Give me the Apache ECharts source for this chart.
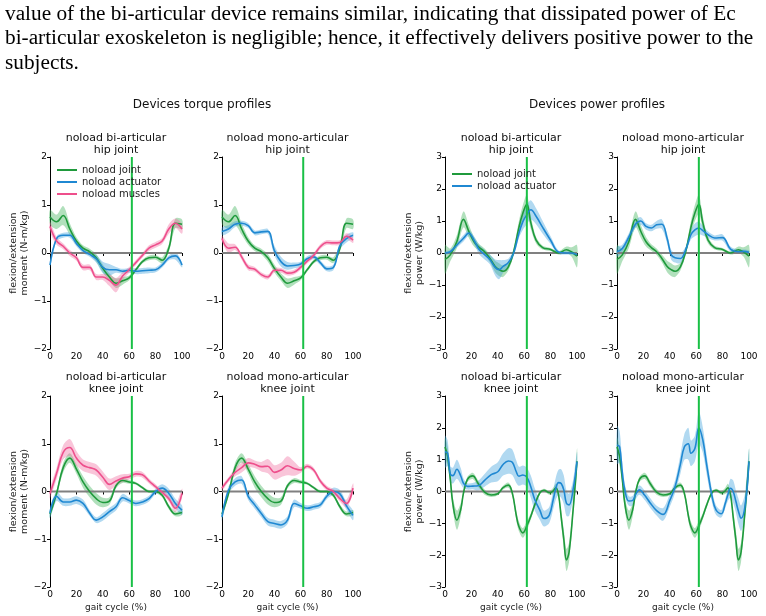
<!DOCTYPE html>
<html>
<head>
<meta charset="utf-8">
<script src="https://cdn.jsdelivr.net/npm/echarts@6/dist/echarts.min.js"></script>
<style>
html, body { margin: 0; padding: 0; background: #fff; }
#chart { width: 766px; height: 616px; }
</style>
</head>
<body>
<div id="chart"></div>
<script>
// gait cycle samples (%)
const hipTorqueX = [0, 5, 10, 15, 20, 25, 30, 35, 40, 45, 50, 55, 60, 65, 70, 75, 80, 85, 90, 95, 100];
const kneeTorqueX = [0, 5, 10, 15, 20, 25, 30, 35, 40, 45, 50, 55, 60, 65, 70, 75, 80, 85, 90, 95, 100];
const hipPowerX = [0, 4, 9, 14, 18, 22, 26, 30, 34, 38, 41, 44, 48, 52, 56, 59, 62, 65, 69, 74, 80, 86, 92, 96, 100];
const kneePowerX = [0, 2, 4, 6, 9, 12, 14, 17, 21, 25, 30, 35, 40, 44, 48, 51, 54, 56, 59, 62, 65, 68, 72, 75, 79, 82, 84, 86, 88, 90, 92, 94, 97, 100];

// hip moment (N-m/kg)
const jointHipTorque = [0.75, 0.65, 0.78, 0.5, 0.25, 0.1, 0.03, -0.1, -0.32, -0.5, -0.63, -0.58, -0.52, -0.35, -0.18, -0.1, -0.09, -0.15, 0.1, 0.62, 0.6];
const jointHipTorqueSd = [0.15, 0.15, 0.2, 0.12, 0.08, 0.06, 0.06, 0.08, 0.08, 0.08, 0.1, 0.08, 0.05, 0.04, 0.04, 0.05, 0.05, 0.06, 0.08, 0.1, 0.1];
const biHipActTorque = [-0.25, 0.3, 0.37, 0.37, 0.2, 0.05, -0.03, -0.12, -0.3, -0.35, -0.35, -0.38, -0.36, -0.38, -0.37, -0.36, -0.35, -0.25, -0.1, -0.06, -0.25];
const biHipActTorqueSd = [0.05, 0.05, 0.05, 0.05, 0.06, 0.05, 0.05, 0.08, 0.12, 0.12, 0.06, 0.05, 0.05, 0.06, 0.06, 0.06, 0.05, 0.05, 0.05, 0.08, 0.05];
const biHipMusTorque = [0.55, 0.25, 0.14, 0.0, -0.1, -0.3, -0.3, -0.5, -0.5, -0.57, -0.67, -0.48, -0.35, -0.2, -0.05, 0.1, 0.17, 0.25, 0.5, 0.62, 0.5];
const biHipMusTorqueSd = [0.1, 0.08, 0.06, 0.06, 0.06, 0.06, 0.06, 0.06, 0.06, 0.12, 0.15, 0.08, 0.06, 0.05, 0.05, 0.06, 0.06, 0.06, 0.1, 0.1, 0.1];
const monoHipActTorque = [0.45, 0.5, 0.6, 0.62, 0.57, 0.42, 0.44, 0.45, 0.05, -0.18, -0.27, -0.26, -0.23, -0.12, -0.08, -0.2, -0.33, -0.3, 0.15, 0.3, 0.37];
const monoHipActTorqueSd = [0.08, 0.08, 0.06, 0.05, 0.05, 0.05, 0.05, 0.05, 0.1, 0.1, 0.08, 0.06, 0.05, 0.05, 0.05, 0.05, 0.05, 0.06, 0.08, 0.08, 0.06];
const monoHipMusTorque = [0.3, 0.1, 0.12, -0.08, -0.3, -0.34, -0.45, -0.5, -0.36, -0.36, -0.42, -0.4, -0.3, -0.17, -0.05, 0.13, 0.22, 0.21, 0.22, 0.35, 0.27];
const monoHipMusTorqueSd = [0.06, 0.1, 0.06, 0.06, 0.06, 0.05, 0.05, 0.05, 0.05, 0.05, 0.05, 0.05, 0.05, 0.05, 0.05, 0.05, 0.05, 0.05, 0.05, 0.06, 0.06];

// knee moment (N-m/kg)
const jointKneeTorque = [-0.47, -0.04, 0.5, 0.7, 0.47, 0.2, 0.0, -0.15, -0.23, -0.2, 0.12, 0.23, 0.2, 0.17, 0.08, 0.0, 0.0, -0.08, -0.32, -0.47, -0.44];
const jointKneeTorqueSd = [0.08, 0.06, 0.1, 0.1, 0.1, 0.12, 0.12, 0.12, 0.1, 0.08, 0.05, 0.05, 0.04, 0.03, 0.03, 0.03, 0.03, 0.04, 0.05, 0.05, 0.05];
const biKneeActTorque = [-0.45, -0.1, -0.22, -0.22, -0.18, -0.25, -0.45, -0.6, -0.53, -0.42, -0.32, -0.13, -0.19, -0.25, -0.22, -0.15, 0.0, 0.07, -0.04, -0.25, -0.39];
const biKneeActTorqueSd = [0.1, 0.1, 0.08, 0.08, 0.08, 0.08, 0.06, 0.06, 0.08, 0.08, 0.08, 0.08, 0.06, 0.06, 0.06, 0.06, 0.06, 0.08, 0.1, 0.1, 0.1];
const biKneeMusTorque = [-0.04, 0.38, 0.82, 0.92, 0.7, 0.55, 0.5, 0.45, 0.3, 0.15, 0.22, 0.28, 0.31, 0.37, 0.35, 0.22, 0.1, -0.02, -0.15, -0.35, -0.04];
const biKneeMusTorqueSd = [0.1, 0.12, 0.15, 0.18, 0.15, 0.12, 0.12, 0.12, 0.12, 0.12, 0.1, 0.08, 0.06, 0.06, 0.06, 0.05, 0.05, 0.05, 0.06, 0.08, 0.1];
const monoKneeActTorque = [-0.53, 0.03, 0.2, 0.24, -0.1, -0.28, -0.46, -0.63, -0.67, -0.7, -0.6, -0.25, -0.3, -0.35, -0.32, -0.28, -0.1, 0.0, -0.05, -0.3, -0.5];
const monoKneeActTorqueSd = [0.08, 0.08, 0.08, 0.08, 0.08, 0.08, 0.08, 0.08, 0.08, 0.08, 0.08, 0.08, 0.06, 0.06, 0.06, 0.06, 0.06, 0.08, 0.08, 0.08, 0.1];
const monoKneeMusTorque = [0.07, 0.25, 0.4, 0.5, 0.6, 0.57, 0.52, 0.53, 0.4, 0.45, 0.54, 0.48, 0.45, 0.53, 0.45, 0.22, 0.07, 0.0, -0.15, -0.25, 0.07];
const monoKneeMusTorqueSd = [0.05, 0.05, 0.08, 0.1, 0.1, 0.08, 0.1, 0.15, 0.15, 0.15, 0.2, 0.15, 0.06, 0.05, 0.05, 0.05, 0.05, 0.05, 0.06, 0.08, 0.1];

// hip power (W/kg)
const jointHipPower = [-0.2, -0.06, 0.36, 1.05, 0.68, 0.35, 0.17, 0.04, -0.17, -0.42, -0.52, -0.57, -0.43, 0.04, 0.8, 1.25, 1.52, 0.95, 0.4, 0.17, 0.11, 0.0, 0.1, 0.03, -0.1];
const jointHipPowerSd = [0.45, 0.2, 0.2, 0.25, 0.2, 0.15, 0.1, 0.1, 0.12, 0.18, 0.2, 0.18, 0.12, 0.1, 0.2, 0.25, 0.3, 0.2, 0.1, 0.06, 0.05, 0.05, 0.1, 0.15, 0.35];
const biHipActPower = [0.0, 0.04, 0.25, 0.46, 0.62, 0.4, 0.1, -0.05, -0.2, -0.45, -0.52, -0.42, -0.3, 0.0, 0.62, 0.98, 1.2, 1.35, 1.15, 0.8, 0.4, 0.03, 0.0, 0.0, -0.05];
const biHipActPowerSd = [0.05, 0.05, 0.08, 0.1, 0.1, 0.12, 0.15, 0.15, 0.15, 0.25, 0.3, 0.2, 0.12, 0.1, 0.15, 0.25, 0.3, 0.3, 0.25, 0.2, 0.12, 0.05, 0.05, 0.05, 0.05];
const monoHipActPower = [0.04, 0.14, 0.5, 0.9, 1.0, 0.83, 0.78, 0.88, 0.9, 0.45, -0.05, -0.15, -0.17, 0.1, 0.57, 0.72, 0.78, 0.7, 0.57, 0.47, 0.48, 0.12, 0.04, 0.05, 0.02];
const monoHipActPowerSd = [0.15, 0.12, 0.12, 0.12, 0.12, 0.1, 0.1, 0.12, 0.15, 0.15, 0.15, 0.15, 0.15, 0.1, 0.15, 0.2, 0.2, 0.15, 0.1, 0.08, 0.1, 0.08, 0.06, 0.06, 0.06];

// knee power (W/kg)
const jointKneePower = [1.4, 1.1, 0.4, -0.4, -0.9, -0.55, -0.05, 0.38, 0.49, 0.26, -0.02, -0.11, -0.07, 0.12, 0.2, -0.05, -0.75, -1.1, -1.3, -1.08, -0.78, -0.42, -0.03, 0.04, -0.04, 0.02, 0.12, -0.1, -0.8, -1.5, -2.15, -1.9, -0.6, 0.95];
const jointKneePowerSd = [0.3, 0.3, 0.2, 0.2, 0.3, 0.2, 0.1, 0.08, 0.1, 0.1, 0.08, 0.06, 0.05, 0.06, 0.08, 0.1, 0.15, 0.15, 0.15, 0.15, 0.1, 0.08, 0.05, 0.05, 0.06, 0.1, 0.12, 0.1, 0.2, 0.3, 0.35, 0.3, 0.2, 0.4];
const biKneeActPower = [1.25, 1.2, 0.55, 0.5, 0.7, 0.48, 0.26, 0.16, 0.17, 0.18, 0.35, 0.53, 0.62, 0.85, 0.96, 0.92, 0.62, 0.48, 0.52, 0.45, 0.15, -0.25, -0.6, -0.85, -0.74, -0.25, 0.1, 0.28, 0.25, 0.05, -0.37, -0.42, 0.05, 0.94];
const biKneeActPowerSd = [0.5, 0.4, 0.25, 0.25, 0.3, 0.25, 0.15, 0.1, 0.1, 0.15, 0.2, 0.25, 0.3, 0.35, 0.4, 0.4, 0.35, 0.3, 0.3, 0.3, 0.35, 0.35, 0.3, 0.25, 0.25, 0.3, 0.35, 0.4, 0.45, 0.45, 0.4, 0.35, 0.3, 0.3];
const monoKneeActPower = [1.46, 1.4, 0.6, 0.03, -0.3, -0.28, -0.1, 0.05, -0.12, -0.35, -0.6, -0.72, -0.28, 0.15, 0.85, 1.4, 1.5, 1.2, 1.35, 2.0, 1.62, 0.82, -0.15, -0.58, -0.7, -0.38, -0.1, 0.1, 0.0, -0.3, -0.62, -0.84, -0.45, 0.94];
const monoKneeActPowerSd = [0.6, 0.5, 0.3, 0.2, 0.15, 0.15, 0.15, 0.15, 0.15, 0.15, 0.15, 0.2, 0.2, 0.2, 0.3, 0.4, 0.5, 0.4, 0.4, 0.5, 0.4, 0.3, 0.2, 0.15, 0.12, 0.15, 0.2, 0.3, 0.35, 0.35, 0.4, 0.4, 0.4, 0.4];

const toeOff = 62;
const paragraph = [
  "value of the bi-articular device remains similar, indicating that dissipated power of Ec",
  "bi-articular exoskeleton is negligible; hence, it effectively delivers positive power to the",
  "subjects."
];

const GREEN = "#1f9a3c", BLUE = "#1f88d2", PINK = "#ee4f8c";
const GREEN_BAND = "rgba(70,180,95,0.42)", BLUE_BAND = "rgba(60,160,220,0.4)", PINK_BAND = "rgba(240,110,160,0.4)";
const FONT = "DejaVu Sans";

// one panel per grid
const panels = [
  { title: "noload bi-articular\nhip joint", x: hipTorqueX, range: 2, unit: "moment (N-m/kg)",
    lines: [[jointHipTorque, jointHipTorqueSd, "j"], [biHipActTorque, biHipActTorqueSd, "a"], [biHipMusTorque, biHipMusTorqueSd, "m"]] },
  { title: "noload mono-articular\nhip joint", x: hipTorqueX, range: 2,
    lines: [[jointHipTorque, jointHipTorqueSd, "j"], [monoHipActTorque, monoHipActTorqueSd, "a"], [monoHipMusTorque, monoHipMusTorqueSd, "m"]] },
  { title: "noload bi-articular\nhip joint", x: hipPowerX, range: 3, unit: "power (W/kg)",
    lines: [[jointHipPower, jointHipPowerSd, "j"], [biHipActPower, biHipActPowerSd, "a"]] },
  { title: "noload mono-articular\nhip joint", x: hipPowerX, range: 3,
    lines: [[jointHipPower, jointHipPowerSd, "j"], [monoHipActPower, monoHipActPowerSd, "a"]] },
  { title: "noload bi-articular\nknee joint", x: kneeTorqueX, range: 2, unit: "moment (N-m/kg)", bottom: true,
    lines: [[jointKneeTorque, jointKneeTorqueSd, "j"], [biKneeActTorque, biKneeActTorqueSd, "a"], [biKneeMusTorque, biKneeMusTorqueSd, "m"]] },
  { title: "noload mono-articular\nknee joint", x: kneeTorqueX, range: 2, bottom: true,
    lines: [[jointKneeTorque, jointKneeTorqueSd, "j"], [monoKneeActTorque, monoKneeActTorqueSd, "a"], [monoKneeMusTorque, monoKneeMusTorqueSd, "m"]] },
  { title: "noload bi-articular\nknee joint", x: kneePowerX, range: 3, unit: "power (W/kg)", bottom: true,
    lines: [[jointKneePower, jointKneePowerSd, "j"], [biKneeActPower, biKneeActPowerSd, "a"]] },
  { title: "noload mono-articular\nknee joint", x: kneePowerX, range: 3, bottom: true,
    lines: [[jointKneePower, jointKneePowerSd, "j"], [monoKneeActPower, monoKneeActPowerSd, "a"]] }
];

const boxes = [
  [50, 157, 132, 192], [222, 157, 131, 192], [445, 157, 132, 192], [617, 157, 132, 192],
  [50, 396, 132, 191], [222, 396, 131, 191], [445, 396, 132, 191], [617, 396, 132, 191]
];

const style = {
  j: { name: "noload joint", color: GREEN, band: GREEN_BAND },
  a: { name: "noload actuator", color: BLUE, band: BLUE_BAND },
  m: { name: "noload muscles", color: PINK, band: PINK_BAND }
};

const minus = (v) => (v < 0 ? "\u2212" + (-v) : String(v));

// shaded mean ± sd band drawn as one polygon through the axis scales
function bandSeries(i, xs, mean, sd, fill) {
  return {
    type: "custom", xAxisIndex: i, yAxisIndex: i, silent: true,
    data: xs.map((x, n) => [x, mean[n]]), encode: { x: 0, y: 1 },
    renderItem(params, api) {
      if (params.dataIndex !== 0) return null;
      const upper = xs.map((x, n) => api.coord([x, mean[n] + sd[n]]));
      const lower = xs.map((x, n) => api.coord([x, mean[n] - sd[n]])).reverse();
      return {
        type: "polygon", silent: true,
        shape: { points: upper.concat(lower), smooth: 0.3 },
        style: { fill: fill, stroke: null }
      };
    }
  };
}

const grid = [], xAxis = [], yAxis = [], series = [], graphic = [];

panels.forEach((p, i) => {
  const [l, t, w, h] = boxes[i];
  grid.push({ left: l, top: t, width: w, height: h });
  xAxis.push({
    type: "value", gridIndex: i, min: 0, max: 100, interval: 20,
    name: p.bottom ? "gait cycle (%)" : "", nameLocation: "middle", nameGap: 16,
    nameTextStyle: { fontFamily: FONT, fontSize: 9, color: "#222" },
    axisLine: { lineStyle: { color: "#000", width: 1 } },
    axisTick: { length: 3, lineStyle: { color: "#000" } },
    axisLabel: { fontFamily: FONT, fontSize: 9, color: "#000", margin: 3 },
    splitLine: { show: false }
  });
  yAxis.push({
    type: "value", gridIndex: i, min: -p.range, max: p.range, interval: 1,
    name: p.unit ? "flexion/extension\n" + p.unit : "", nameLocation: "middle", nameGap: 13,
    nameTextStyle: { fontFamily: FONT, fontSize: 9.5, color: "#222", lineHeight: 11 },
    axisLine: { show: true, lineStyle: { color: "#000", width: 1 } },
    axisTick: { show: true, length: 3, lineStyle: { color: "#000" } },
    axisLabel: { fontFamily: FONT, fontSize: 9, color: "#000", margin: 3, formatter: minus },
    splitLine: { show: false }
  });

  // zero reference
  series.push({
    type: "line", xAxisIndex: i, yAxisIndex: i, silent: true, symbol: "none",
    data: [[0, 0], [100, 0]], lineStyle: { color: "#808080", width: 2 }
  });

  p.lines.forEach(([mean, sd, k]) => {
    series.push(bandSeries(i, p.x, mean, sd, style[k].band));
  });

  // mean curves
  p.lines.forEach(([mean, sd, k]) => {
    series.push({
      name: style[k].name, type: "line", xAxisIndex: i, yAxisIndex: i, symbol: "none", smooth: 0.4,
      color: style[k].color, data: p.x.map((x, n) => [x, mean[n]]),
      lineStyle: { color: style[k].color, width: 1.6 }
    });
  });

  // toe-off marker
  series.push({
    type: "line", xAxisIndex: i, yAxisIndex: i, silent: true, symbol: "none",
    data: [[toeOff, -p.range], [toeOff, p.range]], lineStyle: { color: "#19c046", width: 2 }
  });

  graphic.push({
    type: "text", x: l + w / 2, y: t - 1,
    style: { text: p.title, font: "11px '" + FONT + "'", fill: "#111", align: "center", verticalAlign: "bottom", lineHeight: 12 }
  });
});

graphic.push({ type: "text", x: 202, y: 105, style: { text: "Devices torque profiles", font: "12px '" + FONT + "'", fill: "#111", align: "center", verticalAlign: "middle" } });
graphic.push({ type: "text", x: 597, y: 105, style: { text: "Devices power profiles", font: "12px '" + FONT + "'", fill: "#111", align: "center", verticalAlign: "middle" } });
paragraph.forEach((line, n) => {
  graphic.push({ type: "text", x: 5, y: 14 + n * 24.5, style: { text: line, font: "21.3px 'Liberation Serif'", fill: "#000", align: "left", verticalAlign: "middle" } });
});

const chart = echarts.init(document.getElementById("chart"), null, { renderer: "canvas" });
chart.setOption({
  animation: false,
  backgroundColor: "#fff",
  grid, xAxis, yAxis, series, graphic,
  legend: [
    {
      data: ["noload joint", "noload actuator", "noload muscles"], orient: "vertical", left: 52, top: 160,
      icon: "rect", itemWidth: 20, itemHeight: 2, itemGap: 2, selectedMode: false,
      textStyle: { fontFamily: FONT, fontSize: 10, color: "#222" }
    },
    {
      data: ["noload joint", "noload actuator"], orient: "vertical", left: 447, top: 164,
      icon: "rect", itemWidth: 20, itemHeight: 2, itemGap: 2, selectedMode: false,
      textStyle: { fontFamily: FONT, fontSize: 10, color: "#222" }
    }
  ]
});
</script>
</body>
</html>
